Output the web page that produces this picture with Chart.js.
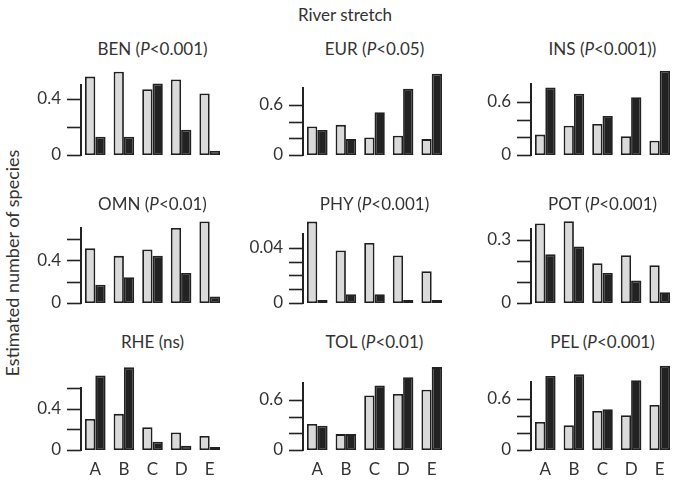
<!DOCTYPE html>
<html>
<head>
<meta charset="utf-8">
<script src="https://cdn.jsdelivr.net/npm/chart.js@4/dist/chart.umd.min.js"></script>
<style>
  body { margin: 0; background: #fff; font-family: Lato, sans-serif; color: #333; }
  #wrap { position: relative; width: 674px; height: 480px; overflow: hidden; }
  canvas { position: absolute; }
  .txt { position: absolute; white-space: nowrap; font-size: 17px; }
  .panelTitle { transform: translate(-50%, -50%); }
  #mainTitle { left: 345px; top: 14px; transform: translate(-50%, -50%); }
  #yTitle { left: 12px; top: 263px; font-size: 18px; transform: translate(-50%, -50%) rotate(-90deg); }
</style>
</head>
<body>
<div id="wrap">
  <div id="mainTitle" class="txt">River stretch</div>
  <div id="yTitle" class="txt">Estimated number of species</div>
</div>
<script>
// river stretches on the x axis
const stretches = ['A', 'B', 'C', 'D', 'E'];

// species groups (one panel each) and their test result
const groups = ['BEN', 'EUR', 'INS', 'OMN', 'PHY', 'POT', 'RHE', 'TOL', 'PEL'];
const signif = ['<0.001)', '<0.05)', '<0.001))', '<0.01)', '<0.001)', '<0.001)', 'ns)', '<0.01)', '<0.001)'];

// light grey bars
const lightSeries = [
  [0.56, 0.595, 0.47, 0.54, 0.44],
  [0.34, 0.36, 0.21, 0.23, 0.19],
  [0.23, 0.33, 0.35, 0.21, 0.16],
  [0.51, 0.44, 0.50, 0.70, 0.76],
  [0.059, 0.038, 0.0435, 0.0345, 0.023],
  [0.376, 0.387, 0.188, 0.226, 0.179],
  [0.30, 0.35, 0.22, 0.17, 0.135],
  [0.31, 0.19, 0.65, 0.67, 0.72],
  [0.33, 0.29, 0.46, 0.41, 0.53]
];

// black bars
const darkSeries = [
  [0.13, 0.13, 0.51, 0.18, 0.03],
  [0.30, 0.19, 0.51, 0.79, 0.97],
  [0.76, 0.69, 0.44, 0.65, 0.95],
  [0.17, 0.24, 0.44, 0.28, 0.06],
  [0.002, 0.0064, 0.0064, 0.0015, 0.0015],
  [0.23, 0.267, 0.142, 0.106, 0.051],
  [0.72, 0.80, 0.08, 0.04, 0.015],
  [0.29, 0.19, 0.77, 0.87, 0.99],
  [0.87, 0.89, 0.48, 0.82, 0.99]
];

// y axis: where the axis line ends, tick marks, labelled ticks
const axisTop = [0.5, 0.8, 0.8, 0.7, 0.05, 0.35, 0.6, 0.8, 0.8];
const tickValues = [
  [0, 0.2, 0.4],
  [0, 0.2, 0.4, 0.6],
  [0, 0.2, 0.4, 0.6],
  [0, 0.2, 0.4, 0.6],
  [0, 0.01, 0.02, 0.03, 0.04],
  [0, 0.1, 0.2, 0.3],
  [0, 0.2, 0.4, 0.6],
  [0, 0.2, 0.4, 0.6],
  [0, 0.2, 0.4, 0.6]
];
const tickLabels = [
  ['0', '0.4'], ['0', '0.6'], ['0', '0.6'],
  ['0', '0.4'], ['0', '0.04'], ['0', '0.3'],
  ['0', '0.4'], ['0', '0.6'], ['0', '0.6']
];

// layout of the grid
const axisX = [81, 303, 531];
const baseY = [155, 303, 450];
const titleY = [48, 203, 341];
const plotH = [70, 67, 71, 75, 69, 74, 62, 67, 68];
const plotW = 143;
const yAxisW = 60;
const padTop = 24;
const tickLen = 14;

const wrap = document.getElementById('wrap');

function noEdgePadding(scale) {
  scale.paddingTop = 0;
  scale.paddingBottom = 0;
  scale.paddingLeft = 0;
  scale.paddingRight = 0;
}

// outward tick marks on the y axis, drawn at the scale's tick values
const yTickMarks = {
  id: 'yTickMarks',
  afterDraw(chart) {
    const y = chart.scales.y;
    const ctx = chart.ctx;
    const x0 = chart.chartArea.left;
    ctx.save();
    ctx.strokeStyle = '#222';
    ctx.lineWidth = 1.6;
    y.ticks.forEach(t => {
      const py = Math.round(y.getPixelForValue(t.value)) + 0.5;
      ctx.beginPath();
      ctx.moveTo(x0 - tickLen, py);
      ctx.lineTo(x0, py);
      ctx.stroke();
    });
    ctx.restore();
  }
};

groups.forEach((g, i) => {
  const row = Math.floor(i / 3);
  const col = i % 3;
  const bottomRow = row === 2;
  const xAxisH = bottomRow ? 30 : 0;
  const padBottom = bottomRow ? 0 : 12;

  const canvas = document.createElement('canvas');
  const w = yAxisW + plotW;
  const h = padTop + plotH[i] + padBottom + xAxisH;
  canvas.width = w;
  canvas.height = h;
  canvas.style.width = w + 'px';
  canvas.style.height = h + 'px';
  canvas.style.left = (axisX[col] - yAxisW) + 'px';
  canvas.style.top = (baseY[row] - plotH[i] - padTop) + 'px';
  wrap.appendChild(canvas);

  const title = document.createElement('div');
  title.className = 'txt panelTitle';
  title.style.left = (axisX[col] + plotW / 2) + 'px';
  title.style.top = titleY[row] + 'px';
  if (signif[i].startsWith('<')) {
    title.innerHTML = g + ' (<i>P</i>' + signif[i].replace('<', '&lt;');
  } else {
    title.textContent = g + ' (' + signif[i];
  }
  wrap.appendChild(title);

  new Chart(canvas, {
    type: 'bar',
    data: {
      labels: stretches,
      datasets: [{
        data: lightSeries[i],
        backgroundColor: '#dadada',
        borderColor: '#1f1f1f',
        borderWidth: 1.8,
        borderSkipped: false,
        clip: false
      }, {
        data: darkSeries[i],
        backgroundColor: '#222222',
        borderColor: '#222222',
        borderWidth: 1.8,
        borderSkipped: false,
        minBarLength: 3,
        clip: false
      }]
    },
    options: {
      responsive: false,
      animation: false,
      layout: { padding: { top: padTop, bottom: padBottom, left: 0, right: 0 } },
      plugins: { legend: { display: false }, tooltip: { enabled: false } },
      datasets: { bar: { categoryPercentage: 0.72, barPercentage: 1.0 } },
      scales: {
        x: {
          display: bottomRow,
          grid: { display: false, drawTicks: false },
          border: { display: false },
          ticks: { color: '#333', padding: 9, font: { family: 'Lato', size: 17 }, autoSkip: false, maxRotation: 0 },
          afterFit: (scale) => { scale.height = xAxisH; noEdgePadding(scale); }
        },
        y: {
          min: 0,
          max: axisTop[i],
          afterBuildTicks: (scale) => {
            scale.ticks = tickValues[i].map(v => ({ value: v }));
          },
          afterFit: (scale) => { scale.width = yAxisW; noEdgePadding(scale); },
          grid: { display: false, drawTicks: false },
          border: { display: true, color: '#222', width: 2 },
          ticks: {
            color: '#333',
            padding: tickLen + 6,
            autoSkip: false,
            font: { family: 'Lato', size: 17 },
            callback: (value) => {
              const s = String(+value.toFixed(3));
              return tickLabels[i].includes(s) ? s : '';
            }
          }
        }
      }
    },
    plugins: [yTickMarks]
  });
});
</script>
</body>
</html>
